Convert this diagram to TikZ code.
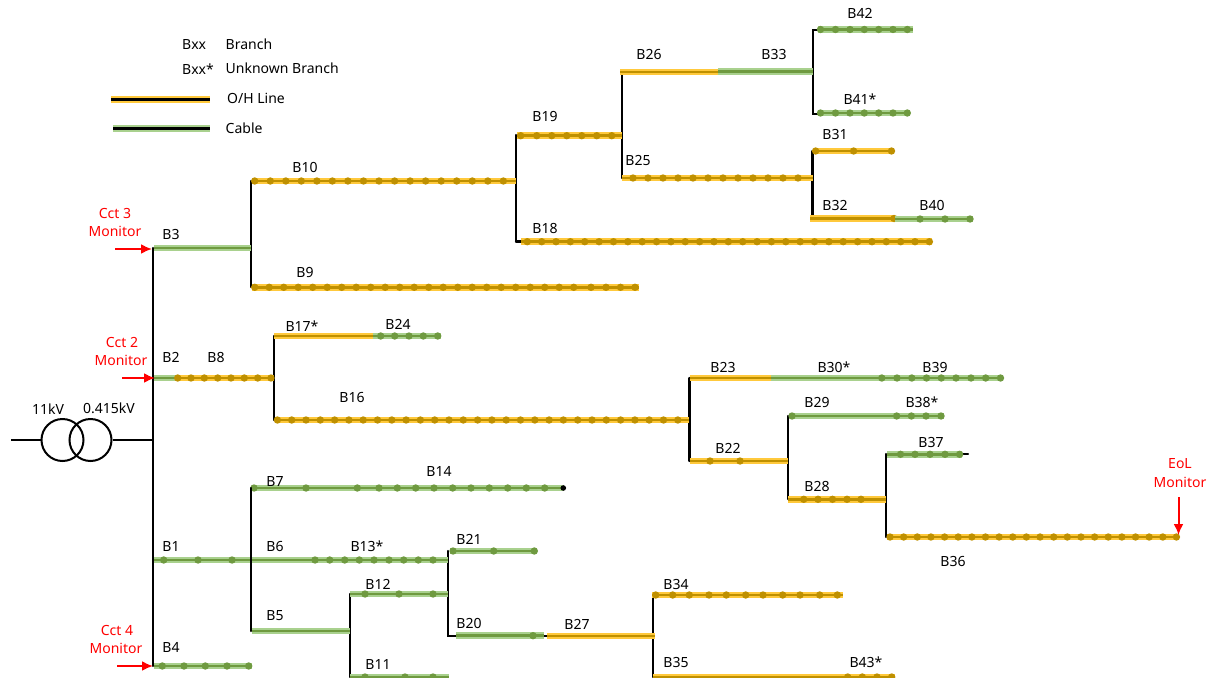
\documentclass[tikz,border=0pt]{standalone}
\usepackage{fontspec}
\setmainfont{Noto Sans}
\usetikzlibrary{arrows.meta}
\definecolor{ohlight}{HTML}{FFC93C}
\definecolor{ohdark}{HTML}{BF9000}
\definecolor{cablight}{HTML}{A9D18E}
\definecolor{cabdark}{HTML}{6F9A40}
\tikzset{
  barOH/.style={draw=ohlight,line width=6.5pt},
  coreOH/.style={draw=ohdark,line width=2.6pt},
  dotOH/.style={fill=ohdark},
  barCB/.style={draw=cablight,line width=6.5pt},
  coreCB/.style={draw=cabdark,line width=2.6pt},
  dotCB/.style={fill=cabdark},
  feeder/.style={draw=black,line width=2.3pt,line cap=round},
  mon/.style={draw=red,line width=2pt,-{Latex[length=11pt,width=10pt]}},
  lbl/.style={font=\fontsize{14}{16}\selectfont,text=black,inner sep=0pt,anchor=center,yshift=-0.7pt},
  red lbl/.style={font=\fontsize{14}{16}\selectfont,text=red,inner sep=0pt,anchor=center,yshift=-0.5pt}
}
% \wire{OH|CB}{name}{x1}{x2}{y}
\newcommand{\wire}[5]{%
  \coordinate (#2a) at (#3,#5);
  \coordinate (#2b) at (#4,#5);
  \draw[bar#1] (#2a) -- (#2b);
  \draw[core#1] (#2a) -- (#2b);
}
% \drow{OH|CB}{y}{x list}
\newcommand{\drow}[3]{%
  \foreach \xx in {#3} {\fill[dot#1] (\xx,#2) circle (3.7pt);}
}
\newcommand{\tag}[3]{\node[lbl] (t#1) at (#2,#3) {#1};}
\begin{document}
\begin{tikzpicture}[x=1pt,y=-1pt]
\useasboundingbox (0,0) rectangle (1212,677);
\clip (0,0) rectangle (1212,677);
% legend
\node[lbl,anchor=west] (legA) at (182,44) {Bxx};
\node[lbl,anchor=west] (legB) at (182,68) {Bxx*};
\node[lbl,anchor=west] (legC) at (225.5,44) {Branch};
\node[lbl,anchor=west] (legD) at (225.5,68) {Unknown Branch};
\node[lbl,anchor=west] (legE) at (227,98) {O/H Line};
\node[lbl,anchor=west] (legF) at (225.5,128) {Cable};
\coordinate (lo1) at (111,99.5); \coordinate (lo2) at (210,99.5);
\draw[barOH] (lo1) -- (lo2); \draw[black,line width=2.2pt] (lo1) -- (lo2);
\coordinate (lc1) at (113,128.5); \coordinate (lc2) at (210,128.5);
\draw[barCB] (lc1) -- (lc2); \draw[black,line width=2.2pt] (lc1) -- (lc2);
% transformer
\node[circle,draw,line width=2pt,minimum size=42pt,inner sep=0pt] (tr1) at (62.5,440) {};
\node[circle,draw,line width=2pt,minimum size=42pt,inner sep=0pt] (tr2) at (90.5,440) {};
\coordinate (hv) at (11,440);
\coordinate (busT) at (153,248);
\coordinate (busB) at (153,666);
\coordinate (busM) at (153,440);
\draw[black,line width=2pt] (hv) -- (tr1.west);
\draw[black,line width=2pt] (tr2.east) -- (busM);
\node[lbl] (kv1) at (48,408) {11kV};
\node[lbl] (kv2) at (109,408) {0.415kV};
% black feeders
\draw[feeder] (busT) -- (busB);
\coordinate (v1a) at (251,181); \coordinate (v1b) at (251,287); \draw[feeder] (v1a) -- (v1b);
\coordinate (v2a) at (516,135); \coordinate (v2b) at (516,241.5); \draw[feeder] (v2a) -- (v2b);
\coordinate (v2c) at (522,241.5); \draw[feeder] (v2b) -- (v2c);
\coordinate (v3a) at (622,72); \coordinate (v3b) at (622,178); \draw[feeder] (v3a) -- (v3b);
\coordinate (v4a) at (813,30); \coordinate (v4b) at (813,114); \coordinate (v4c) at (820,30); \coordinate (v4d) at (820,114);
\draw[feeder] (v4c) -- (v4a) -- (v4b) -- (v4d);
\coordinate (v5a) at (812.5,151); \coordinate (v5b) at (812.5,218); \draw[feeder] (v5a) -- (v5b);
\coordinate (v6a) at (274,336); \coordinate (v6b) at (274,420); \draw[feeder] (v6a) -- (v6b);
\coordinate (v7a) at (689.5,378); \coordinate (v7b) at (689.5,461); \draw[feeder] (v7a) -- (v7b);
\coordinate (v8a) at (788,416); \coordinate (v8b) at (788,499); \draw[feeder] (v8a) -- (v8b);
\coordinate (v9a) at (886,454); \coordinate (v9b) at (886,537); \draw[feeder] (v9a) -- (v9b);
\coordinate (v10a) at (251,488); \coordinate (v10b) at (251,631); 
\coordinate (v11a) at (350,594); \coordinate (v11b) at (350,677); \draw[feeder] (v11a) -- (v11b);
\coordinate (v12a) at (448,551); \coordinate (v12b) at (448,636); \coordinate (v12c) at (458,636); \draw[feeder] (v12a) -- (v12b) -- (v12c);
\coordinate (v13a) at (653,595); \coordinate (v13b) at (653,677); \draw[feeder] (v13a) -- (v13b);
\coordinate (t37) at (968,454.3); \coordinate (t37s) at (960,454.3);
\coordinate (t20) at (548,635.7); \coordinate (t20s) at (540,635.7);
\draw[feeder] (t37s) -- (t37);
\draw[feeder] (t20s) -- (t20);
% wires: upper
\wire{CB}{b3}{154}{251}{248}
\wire{OH}{b10}{252}{516}{181}
\drow{OH}{181}{254.7,270.3,285.8,301.3,316.9,332.4,347.9,363.5,379,394.6,410.1,425.6,441.2,456.7,472.3,487.8,503.4}
\wire{OH}{b9}{252}{639}{287.3}
\drow{OH}{287.3}{254.7,269.2,283.7,298.2,312.7,327.2,341.7,356.2,370.7,385.2,399.7,414.2,428.7,443.2,457.7,472.2,486.7,501.2,515.7,530.2,544.7,559.2,573.7,591,606,620.5,635}
\wire{OH}{b19}{517}{622}{135.7}
\drow{OH}{135.7}{520.7,536.7,551.7,566.7,581.7,596.7,611.7}
\wire{OH}{b18}{521}{932}{241.7}
\foreach \k in {0,...,28} {\pgfmathsetmacro{\xv}{527.3+14.36*\k}\fill[dotOH] (\xv,241.7) circle (3.7pt);}
\wire{OH}{b26}{620}{718}{72}
\wire{CB}{b33}{718}{813}{71.5}
\wire{CB}{b42}{818}{913}{29.5}
\drow{CB}{29.5}{820.5,835.5,850,864.3,878.7,893,907.3}
\wire{CB}{b41}{818}{910}{113}
\drow{CB}{113}{820.5,835.5,850,864.3,878.7,893,907.3}
\wire{OH}{b25}{622}{813}{178}
\drow{OH}{178}{633,648,663,678,693,708,723,738,753,768,783,798}
\wire{OH}{b31}{814}{894}{151}
\drow{OH}{151}{815.6,853.6,891.5}
\wire{OH}{b32}{810}{895}{218.5}
\drow{OH}{218.5}{894}
\wire{CB}{b40}{895}{973}{219}
\drow{CB}{219}{920,945,970}
% wires: middle
\wire{CB}{b2}{154}{177}{378}
\wire{OH}{b8}{177}{274}{378}
\drow{OH}{378}{177.7,191,204.3,217.7,231,244.3,257.7,271}
\wire{OH}{b17}{274}{373}{336}
\wire{CB}{b24}{373}{441}{336}
\drow{CB}{336}{380.7,394.7,409,423.3,437.7}
\wire{OH}{b16}{276}{689}{420}
\foreach \k in {0,...,28} {\pgfmathsetmacro{\xv}{277.4+14.3*\k}\fill[dotOH] (\xv,420) circle (3.7pt);}
\wire{OH}{b23}{690}{771}{378}
\wire{CB}{b30}{771}{1003}{378}
\drow{CB}{378}{881.8,897,911.8,926.5,941.3,956,971,985.7,1000.5}
\wire{OH}{b22}{690}{788}{461}
\drow{OH}{461}{710,740}
\wire{CB}{b29}{790}{944}{416}
\drow{CB}{416}{792,896.6,911.4,926,941}
\wire{OH}{b28}{788}{886}{499.3}
\drow{OH}{499.3}{803.7,818,832.5,847,861}
\wire{CB}{b37}{887}{962}{454.3}
\drow{CB}{454.3}{900.5,915,930,945,959.6}
\wire{OH}{b36}{887}{1178}{537}
\foreach \k in {0,...,21} {\pgfmathsetmacro{\xv}{890+13.64*\k}\fill[dotOH] (\xv,537) circle (3.7pt);}
% wires: lower
\wire{CB}{b1}{154}{251}{560}
\drow{CB}{560}{163.7,198,232}
\wire{CB}{b7}{252}{564}{488}
\drow{CB}{488}{254,306,357.3,379,397.3,415.7,434,452.7,471,489.3,507.7,526.3,544.7}
\fill[black] (563.3,488) circle (2.8pt);
\wire{CB}{b6}{251}{448}{560}
\drow{CB}{560}{315,329.7,344.7,359.3,374,389,403.7,418.3,433}
\wire{CB}{b21}{450}{537}{551}
\drow{CB}{551}{453,493.7,534.3}
\wire{CB}{b12}{350}{448}{594}
\drow{CB}{594}{365,399,433}
\wire{CB}{b5}{252}{350}{631}
\wire{CB}{b11}{350}{449}{677}
\drow{CB}{677}{365,405,433}
\wire{CB}{b20}{456}{544}{635.7}
\drow{CB}{635.7}{533}
\wire{OH}{b27}{547}{655}{636}
\wire{OH}{b34}{652}{843}{595}
\drow{OH}{595}{655.7,672.7,689.3,709,726.3,745.7,763,782.7,800,819.7,837.3}
\wire{OH}{b35}{653}{895}{677}
\drow{OH}{677}{847.7,862.3,877,891.7}
\wire{CB}{b4}{154}{252}{666}
\drow{CB}{666}{162.3,184,205.3,227,248.7}
% feeder crossing over B1/B6
\draw[feeder] (v10a) -- (v10b);
% monitors
\coordinate (m3a) at (115,249); \coordinate (m3b) at (152,249); \draw[mon] (m3a) -- (m3b);
\coordinate (m2a) at (122,378); \coordinate (m2b) at (155,378); \draw[mon] (m2a) -- (m2b);
\coordinate (m4a) at (117,666); \coordinate (m4b) at (153,666); \draw[mon] (m4a) -- (m4b);
\coordinate (meA) at (1178.5,497); \coordinate (meB) at (1178.5,535); \draw[mon] (meA) -- (meB);
\node[red lbl] (c3a) at (115,213) {Cct 3};
\node[red lbl] (c3b) at (115,231) {Monitor};
\node[red lbl] (c2a) at (122,342) {Cct 2};
\node[red lbl] (c2b) at (121,360) {Monitor};
\node[red lbl] (c4a) at (117,630) {Cct 4};
\node[red lbl] (c4b) at (116,648) {Monitor};
\node[red lbl] (eoa) at (1180,463) {EoL};
\node[red lbl] (eob) at (1180,482) {Monitor};
% labels
\tag{B42}{860}{13}
\tag{B33}{774}{54}
\tag{B26}{649}{54}
\tag{B41*}{860}{98}
\tag{B19}{545}{116}
\tag{B31}{835}{134}
\tag{B25}{638}{160}
\tag{B10}{305}{167}
\tag{B32}{835}{205}
\tag{B40}{932}{205}
\tag{B18}{545}{228}
\tag{B3}{171}{234}
\tag{B9}{305}{272}
\tag{B17*}{302}{325}
\tag{B24}{398}{324}
\tag{B2}{171}{357}
\tag{B8}{216}{357}
\tag{B23}{723}{367}
\tag{B30*}{834}{367}
\tag{B39}{935}{367}
\tag{B16}{352}{397}
\tag{B29}{817}{402}
\tag{B38*}{922}{402}
\tag{B37}{931}{442}
\tag{B22}{728}{448}
\tag{B28}{817}{486}
\tag{B7}{275}{481}
\tag{B14}{439}{471}
\tag{B21}{469}{539}
\tag{B1}{171}{546}
\tag{B6}{275}{546}
\tag{B13*}{367}{546}
\tag{B12}{378}{584}
\tag{B34}{676}{584}
\tag{B36}{953}{561}
\tag{B5}{275}{615}
\tag{B20}{469}{623}
\tag{B27}{577}{624}
\tag{B4}{171}{647}
\tag{B11}{378}{664}
\tag{B35}{676}{662}
\tag{B43*}{866}{662}
\end{tikzpicture}
\end{document}
